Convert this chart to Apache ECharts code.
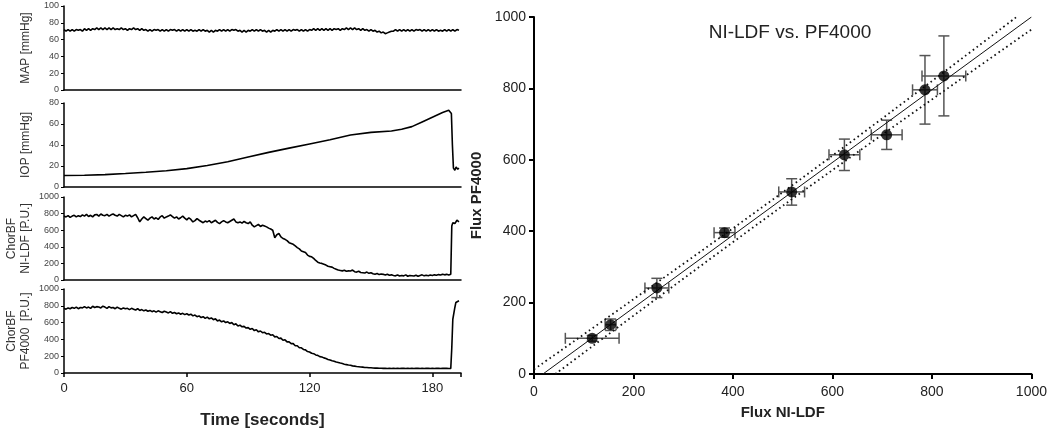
<!DOCTYPE html>
<html>
<head>
<meta charset="utf-8">
<script src="https://cdn.jsdelivr.net/npm/echarts@6/dist/echarts.min.js"></script>
<style>html,body{margin:0;padding:0;background:#fff}#c{width:1050px;height:433px}</style>
</head>
<body>
<div id="c"></div>
<script>
// ---------- Left panels: time series (1 s sampling) ----------
const timeTicks = [0, 60, 120, 180];
const sampleStep = 1; // seconds between samples

const mapV = [
72,70,72,70,72,70,72,71,72,70,
73,71,73,71,73,72,74,72,74,72,
74,72,74,72,74,72,73,72,74,72,
73,71,73,72,74,72,73,71,73,71,
72,70,72,70,72,71,72,70,72,70,
72,70,72,71,72,70,72,70,72,70,
72,70,72,70,71,70,72,70,72,70,
71,69,71,69,71,70,72,70,72,70,
72,70,72,71,72,70,71,69,71,69,
71,70,72,70,72,70,72,70,71,69,
71,69,71,70,72,70,72,70,72,70,
72,70,72,71,72,70,72,70,72,70,
72,71,73,71,73,71,73,71,73,71,
73,71,73,72,73,71,73,72,74,72,
74,72,74,72,73,71,73,71,72,70,
72,70,71,69,70,68,69,67,68,69,
70,70,72,70,72,70,72,70,72,70,
72,70,72,71,72,70,72,70,72,70,
72,70,72,70,71,70,72,70,72,70,
72,70,72,71];

const iopT = [0,10,20,30,40,50,60,70,80,90,100,110,120,130,140,150,160,165,170,175,180,185,188,189.3,189.8,190.3,191,191.6,192.4,193];
const iopV = [11.0,11.2,11.8,12.8,14.0,15.5,17.5,20.5,24.0,28.5,33.0,37.0,41.0,45.0,49.5,52.0,53.3,55.0,57.5,62.0,66.5,71.0,73.0,70.0,40.0,18.0,16.0,19.0,17.0,18.0];

const ldfV = [
770,760,775,755,770,780,760,775,765,785,
770,790,765,780,760,785,790,770,795,780,
775,790,770,785,795,780,770,790,775,760,
780,770,785,760,775,790,750,700,735,760,
740,720,745,760,735,750,730,760,775,745,
760,770,785,765,745,760,735,750,770,745,
725,750,730,700,715,740,720,705,690,710,
700,715,690,705,720,695,680,700,715,700,
690,705,720,735,700,690,700,685,705,690,
680,700,660,640,655,670,645,660,650,640,
625,615,600,510,545,560,520,500,490,475,
450,440,430,410,390,375,350,340,330,300,
285,280,260,235,215,205,200,190,180,165,
160,155,140,130,120,115,110,118,105,110,
108,120,100,95,105,90,88,85,95,80,
88,75,70,78,65,72,68,60,70,58,
62,55,50,60,48,55,50,62,45,55,
52,48,58,45,55,62,50,58,52,60,
55,62,58,65,60,70,62,68,60,70];
const ldfTailT = [189.5,190,191,192,193];
const ldfTailV = [650,690,680,720,700];

const pfV = [
770,760,775,765,780,770,785,765,780,775,
790,775,785,770,795,780,790,785,775,795,
785,770,790,775,780,765,785,770,760,775,
765,770,755,770,760,750,765,745,755,740,
750,735,745,730,740,725,740,730,720,735,
725,715,730,710,720,705,715,700,710,695,
705,690,700,680,690,670,680,660,670,650,
665,645,655,635,645,620,630,610,620,600,
610,590,600,575,585,560,570,550,555,535,
540,520,530,505,515,490,500,480,485,465,
470,450,455,430,435,410,415,390,395,370,
370,350,350,325,325,300,300,280,275,255,
250,235,230,215,210,195,190,180,172,160,
155,145,140,130,125,118,112,105,100,95,
92,85,82,78,75,72,70,66,66,62,
62,60,58,58,56,56,55,55,54,55,
54,55,54,55,54,55,56,54,55,54,
55,54,56,55,54,55,54,56,55,54,
55,54,56,55,54,55,56,55,54,55];
const pfTailT = [189.5,190,190.6,191,191.5,192.3,193];
const pfTailV = [300,640,660,780,840,860,860];

// ---------- Right panel: NI-LDF vs PF4000 ----------
const fluxLDF   = [117,154,247,383,518,624,709,786,824];
const fluxPF    = [100,138,241,396,510,614,670,796,835];
const errLDF    = [54,11,24,21,26,31,31,25,44];
const errPF     = [8,16,27,13,37,44,41,96,112];
const regX  = [18,1000];       const regY  = [0,1000];
const bandUpX = [0,500,970];   const bandUpY = [13,509,1000];
const bandLoX = [43,500,1000]; const bandLoY = [0,471,965];
const fluxTicks = [0,200,400,600,800,1000];

// ---------- build ----------
const F = "'Liberation Sans', Arial, Helvetica, sans-serif";
const uniform = (arr) => arr.map((v, i) => [i * sampleStep, v]);
const pairs = (xs, ys) => xs.map((x, i) => [x, ys[i]]);
const plain = v => String(v);

const panels = [
  {name: 'MAP [mmHg]', max: 100, interval: 20, data: uniform(mapV)},
  {name: 'IOP [mmHg]', max: 80, interval: 20, data: pairs(iopT, iopV)},
  {name: 'ChorBF\nNI-LDF [P.U.]', max: 1000, interval: 200, data: uniform(ldfV).concat(pairs(ldfTailT, ldfTailV))},
  {name: 'ChorBF\nPF4000  [P.U.]', max: 1000, interval: 200, data: uniform(pfV).concat(pairs(pfTailT, pfTailV))}
];
const gridTops = [6, 103, 197, 289];
const gridHeights = [84, 84, 83, 84];

const grid = [], xAxis = [], yAxis = [], series = [];
panels.forEach((p, i) => {
  grid.push({left: 64, width: 397, top: gridTops[i], height: gridHeights[i]});
  const last = i === 3;
  xAxis.push({
    type: 'value', gridIndex: i, min: 0, max: 194, interval: 60,
    axisLine: {show: true, onZero: false, lineStyle: {color: '#000', width: 1.5}},
    axisTick: {show: last, length: 4, lineStyle: {color: '#000', width: 1.5}},
    axisLabel: {show: last, fontFamily: F, fontSize: 13, color: '#222', margin: 9,
      formatter: v => timeTicks.includes(v) ? String(v) : ''},
    splitLine: {show: false},
    name: last ? 'Time [seconds]' : '', nameLocation: 'middle', nameGap: 39,
    nameTextStyle: {fontFamily: F, fontSize: 17, fontWeight: 'bold', color: '#222'}
  });
  yAxis.push({
    type: 'value', gridIndex: i, min: 0, max: p.max, interval: p.interval,
    axisLine: {show: true, lineStyle: {color: '#000', width: 1.5}},
    axisTick: {show: true, length: 3, lineStyle: {color: '#000', width: 1}},
    axisLabel: {fontFamily: F, fontSize: 9, color: '#444', margin: 5, formatter: plain},
    splitLine: {show: false},
    name: p.name, nameLocation: 'middle', nameGap: 31,
    nameTextStyle: {fontFamily: F, fontSize: 12, color: '#333', lineHeight: 14}
  });
  series.push({
    type: 'line', xAxisIndex: i, yAxisIndex: i, data: p.data,
    showSymbol: false, symbol: 'none', silent: true,
    lineStyle: {color: '#000', width: 1.6}
  });
});

// right grid
grid.push({left: 534, right: 17, top: 17, bottom: 59});
xAxis.push({
  type: 'value', gridIndex: 4, min: 0, max: 1000, interval: 200,
  axisLine: {show: true, onZero: false, lineStyle: {color: '#000', width: 2}},
  axisTick: {show: true, length: 5, lineStyle: {color: '#000', width: 2}},
  axisLabel: {fontFamily: F, fontSize: 14, color: '#222', margin: 11,
    formatter: v => fluxTicks.includes(v) ? String(v) : ''},
  splitLine: {show: false},
  name: 'Flux NI-LDF', nameLocation: 'middle', nameGap: 31,
  nameTextStyle: {fontFamily: F, fontSize: 15, fontWeight: 'bold', color: '#222'}
});
yAxis.push({
  type: 'value', gridIndex: 4, min: 0, max: 1000, interval: 200,
  axisLine: {show: true, onZero: false, lineStyle: {color: '#000', width: 2}},
  axisTick: {show: true, length: 5, lineStyle: {color: '#000', width: 2}},
  axisLabel: {fontFamily: F, fontSize: 14, color: '#222', margin: 8,
    formatter: v => fluxTicks.includes(v) ? String(v) : ''},
  splitLine: {show: false},
  name: 'Flux PF4000', nameLocation: 'middle', nameGap: 50,
  nameTextStyle: {fontFamily: F, fontSize: 15, fontWeight: 'bold', color: '#222'}
});

series.push({type: 'line', xAxisIndex: 4, yAxisIndex: 4, data: pairs(regX, regY),
  showSymbol: false, symbol: 'none', silent: true, lineStyle: {color: '#111', width: 1}});
series.push({type: 'line', xAxisIndex: 4, yAxisIndex: 4, data: pairs(bandUpX, bandUpY), smooth: 0.4,
  showSymbol: false, symbol: 'none', silent: true, lineStyle: {color: '#111', width: 1.8, type: [1.6, 3.2]}});
series.push({type: 'line', xAxisIndex: 4, yAxisIndex: 4, data: pairs(bandLoX, bandLoY), smooth: 0.4,
  showSymbol: false, symbol: 'none', silent: true, lineStyle: {color: '#111', width: 1.8, type: [1.6, 3.2]}});

const errData = fluxLDF.map((x, i) => [x, fluxPF[i], errLDF[i], errPF[i]]);
series.push({
  type: 'custom', xAxisIndex: 4, yAxisIndex: 4, data: errData, silent: true,
  encode: {x: 0, y: 1},
  renderItem: function (params, api) {
    const x = api.value(0), y = api.value(1), ex = api.value(2), ey = api.value(3);
    const l = api.coord([x - ex, y]), r = api.coord([x + ex, y]);
    const b = api.coord([x, y - ey]), t = api.coord([x, y + ey]);
    const c = 5.5;
    const st = {stroke: '#555', lineWidth: 1.5, fill: null};
    const seg = (x1, y1, x2, y2) => ({type: 'line', shape: {x1, y1, x2, y2}, style: st});
    return {type: 'group', children: [
      seg(l[0], l[1], r[0], r[1]),
      seg(l[0], l[1] - c, l[0], l[1] + c),
      seg(r[0], r[1] - c, r[0], r[1] + c),
      seg(b[0], b[1], t[0], t[1]),
      seg(b[0] - c, b[1], b[0] + c, b[1]),
      seg(t[0] - c, t[1], t[0] + c, t[1])
    ]};
  },
  z: 3
});
series.push({
  type: 'scatter', xAxisIndex: 4, yAxisIndex: 4, data: pairs(fluxLDF, fluxPF),
  symbol: 'circle', symbolSize: 11, itemStyle: {color: '#000'}, silent: true, z: 4
});

const chart = echarts.init(document.getElementById('c'), null, {renderer: 'canvas'});
chart.setOption({
  animation: false,
  backgroundColor: '#fff',
  title: {text: 'NI-LDF vs. PF4000', left: 785, top: 18, textAlign: 'center',
    textStyle: {fontFamily: F, fontSize: 19, fontWeight: 'normal', color: '#222'}},
  grid, xAxis, yAxis, series
});
</script>
</body>
</html>
